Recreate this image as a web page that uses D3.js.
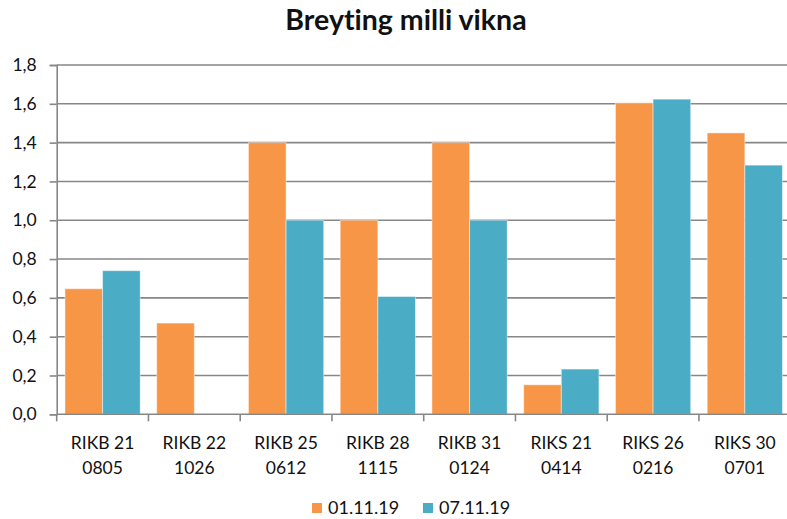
<!DOCTYPE html>
<html>
<head>
<meta charset="utf-8">
<script src="https://cdn.jsdelivr.net/npm/d3@7"></script>
<style>
  html, body { margin: 0; padding: 0; background: #fff; }
  svg { display: block; font-family: Lato, "Open Sans", sans-serif; font-variant-ligatures: none; }
</style>
</head>
<body>
<svg id="chart" width="787" height="519"></svg>
<script>
// Bond series and weekly change values
const categories = [
  ["RIKB 21", "0805"],
  ["RIKB 22", "1026"],
  ["RIKB 25", "0612"],
  ["RIKB 28", "1115"],
  ["RIKB 31", "0124"],
  ["RIKS 21", "0414"],
  ["RIKS 26", "0216"],
  ["RIKS 30", "0701"]
];
const seriesNames = ["01.11.19", "07.11.19"];
const values0111 = [0.647, 0.47, 1.40, 1.00, 1.40, 0.152, 1.605, 1.45];
const values0711 = [0.74, 0.0, 1.00, 0.607, 1.00, 0.233, 1.624, 1.284];
const yTicks = [0, 0.2, 0.4, 0.6, 0.8, 1.0, 1.2, 1.4, 1.6, 1.8];
const colors = ["#F79646", "#4BACC6"];
const titleText = "Breyting milli vikna";

const svg = d3.select("#chart");
const plotLeft = 56.7, plotRight = 790.7, plotTop = 65, plotBottom = 414.3;

const x = d3.scaleBand()
  .domain(d3.range(categories.length))
  .range([plotLeft, plotRight])
  .paddingInner(0.18)
  .paddingOuter(0.09);
const xs = d3.scaleBand()
  .domain([0, 1])
  .range([0, x.bandwidth()]);
const y = d3.scaleLinear().domain([0, 1.8]).range([plotBottom, plotTop]);

const fmt = v => d3.format(".1f")(v).replace(".", ",");

// Horizontal gridlines
svg.append("g")
  .selectAll("line")
  .data(yTicks.filter(t => t > 0))
  .join("line")
  .attr("x1", plotLeft).attr("x2", plotRight)
  .attr("y1", d => y(d)).attr("y2", d => y(d))
  .attr("stroke", "#878787").attr("stroke-width", 1.6);

// Bars
const series = [values0111, values0711];
const groups = svg.append("g")
  .selectAll("g")
  .data(series)
  .join("g")
  .attr("fill", (d, i) => colors[i]);
groups.selectAll("rect")
  .data((d, si) => d.map((v, ci) => ({ v, ci, si })).filter(b => b.v > 0))
  .join("rect")
  .attr("x", d => x(d.ci) + xs(d.si))
  .attr("width", xs.bandwidth())
  .attr("y", d => y(d.v))
  .attr("height", d => y(0) - y(d.v))
  .attr("stroke", "rgba(255,255,255,0.45)")
  .attr("stroke-width", 1);

// Y axis
const yAxis = svg.append("g")
  .attr("transform", `translate(${plotLeft},0)`)
  .call(d3.axisLeft(y).tickValues(yTicks).tickFormat(fmt).tickSize(7).tickPadding(13));
yAxis.select(".domain").attr("stroke", "#878787").attr("stroke-width", 1.6);
yAxis.selectAll(".tick line").attr("stroke", "#878787").attr("stroke-width", 1.6);
yAxis.selectAll(".tick text")
  .attr("font-size", 17.5).attr("fill", "#111")
  .attr("font-family", "Lato, sans-serif");

// X axis
const xAxis = svg.append("g")
  .attr("transform", `translate(0,${plotBottom})`);
xAxis.append("line")
  .attr("x1", plotLeft).attr("x2", plotRight)
  .attr("stroke", "#878787").attr("stroke-width", 1.6);
const step = x.step();
xAxis.selectAll("line.tk")
  .data(d3.range(categories.length + 1))
  .join("line")
  .attr("class", "tk")
  .attr("x1", i => plotLeft + i * step).attr("x2", i => plotLeft + i * step)
  .attr("y1", 0).attr("y2", 7)
  .attr("stroke", "#878787").attr("stroke-width", 1.6);
const lbl = xAxis.selectAll("text")
  .data(categories)
  .join("text")
  .attr("text-anchor", "middle")
  .attr("font-size", 17.5).attr("fill", "#111");
lbl.append("tspan")
  .attr("x", (d, i) => x(i) + x.bandwidth() / 2)
  .attr("y", 35)
  .text(d => d[0]);
lbl.append("tspan")
  .attr("x", (d, i) => x(i) + x.bandwidth() / 2)
  .attr("y", 59.5)
  .text(d => d[1]);

// Title
svg.append("text")
  .attr("x", 406).attr("y", 30)
  .attr("text-anchor", "middle")
  .attr("font-size", 28.5).attr("font-weight", "bold").attr("fill", "#111")
  .text(titleText);

// Legend
const legend = svg.append("g");
const legendX = [312, 423];
seriesNames.forEach((name, i) => {
  legend.append("rect")
    .attr("x", legendX[i]).attr("y", 503)
    .attr("width", 10).attr("height", 10)
    .attr("fill", colors[i]);
  legend.append("text")
    .attr("x", legendX[i] + 16).attr("y", 514)
    .attr("font-size", 18).attr("fill", "#111")
    .text(name);
});
</script>
</body>
</html>
